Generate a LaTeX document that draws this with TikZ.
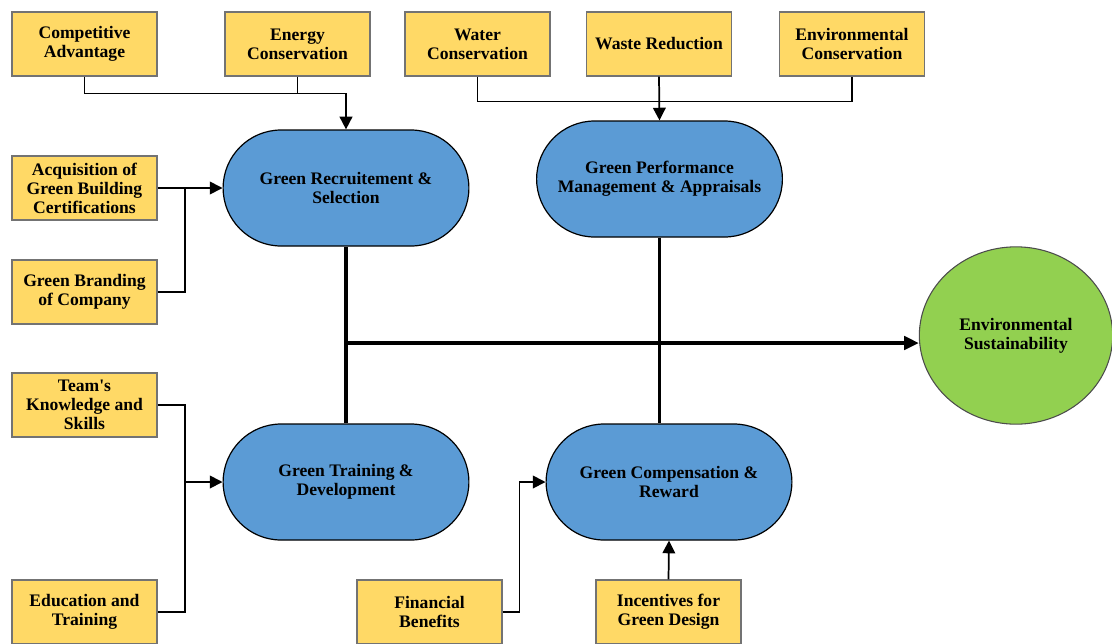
\documentclass[tikz,border=0pt]{standalone}
\usepackage{fontspec}
\setmainfont{Liberation Serif}
\newfontfamily\plainserif{Liberation Serif}
\usetikzlibrary{shapes.misc,shapes.geometric,arrows.meta,positioning,calc}

\definecolor{factoryellow}{HTML}{FFD966}
\definecolor{practiceblue}{HTML}{5B9BD5}
\definecolor{goalgreen}{HTML}{92D050}

\begin{document}
\begin{tikzpicture}[
    x=0.75pt, y=-0.75pt,
    font=\fontsize{13.2}{14.3}\selectfont\bfseries,
    factor/.style={
        rectangle,
        draw=black!55,
        line width=0.9pt,
        fill=factoryellow,
        minimum width=108.75pt,
        minimum height=48pt,
        inner sep=1pt,
        align=center
    },
    practice/.style={
        rounded rectangle,
        draw=black,
        line width=0.9pt,
        fill=practiceblue,
        minimum width=191pt,
        minimum height=87pt,
        align=center
    },
    goal/.style={
        ellipse,
        draw=black!70,
        line width=0.8pt,
        fill=goalgreen,
        minimum width=145pt,
        minimum height=133pt,
        align=center
    },
    link/.style={draw=black, line width=1.3pt},
    feed/.style={link, -{Triangle[length=9.5pt,width=9.5pt]}},
    trunk/.style={draw=black, line width=2.6pt},
    trunk arrow/.style={trunk, -{Triangle[length=11pt,width=10pt]}}
]
\useasboundingbox (0,0) rectangle (1112,643);

% Practices
\node [practice] (recruit) at (346,188) {Green Recruitement \&\\Selection};
\node [practice] (perf) at (659.5,179) {Green Performance\\Management \& Appraisals};
\node [practice] (train) at (346,482) {Green Training \&\\Development};
\node [practice] (comp) at (669,482) {Green Compensation \&\\Reward};

% Outcome
\node [goal] (sustain) at (1016,335.5) {Environmental\\Sustainability};

% Factors, top row
\node [factor] (compadv) at (84.5,44) {Competitive\\Advantage};
\node [factor] (energy) at (297.5,44) {Energy\\Conservation};
\node [factor] (water) at (477.5,44) {Water\\Conservation};
\node [factor] (waste) at (659,44) {Waste Reduction};
\node [factor] (envcons) at (852,44) {Environmental\\Conservation};

% Factors, left column
\node [factor] (acq) at (84.5,188) {Acquisition of\\Green Building\\Certifications};
\node [factor] (brand) at (84.5,292) {Green Branding\\of Company};
\node [factor] (team) at (84.5,405) {Team{\plainserif '}s\\Knowledge and\\Skills};
\node [factor] (educ) at (84.5,612) {Education and\\Training};

% Factors, bottom row
\node [factor] (fin) at (429.5,612) {Financial\\Benefits};
\node [factor] (incent) at (668.5,612) {Incentives for\\Green Design};

% Joints
\coordinate (rjoin) at (185,188);
\coordinate (tjoin) at (185,482);
\coordinate (hub) at (346,343);

% Connections into recruitment
\draw [feed] (compadv.south) -- ++(0,17) -| (recruit.north);
\draw [link] (energy.south) -- ++(0,17);
\draw [feed] (acq.east) -- (recruit.west);
\draw [link] (brand.east) -| (rjoin);

% Connections into performance
\draw [link] (water.south) -- ++(0,25) -| (envcons.south);
\draw [feed] (waste.south) -- (perf.north);

% Connections into training
\draw [link] (team.east) -| (tjoin);
\draw [link] (educ.east) -| (tjoin);
\draw [feed] (tjoin) -- (train.west);

% Connections into compensation
\draw [feed] (fin.east) -- ++(17,0) |- (comp.west);
\draw [feed] (incent.north) -- (comp.south);

% Main trunk
\draw [trunk] (recruit.south) -- (train.north);
\draw [trunk] (perf.south) -- (perf.south |- comp.north);
\draw [trunk arrow] (hub) -- (sustain.west |- hub);

\end{tikzpicture}
\end{document}
